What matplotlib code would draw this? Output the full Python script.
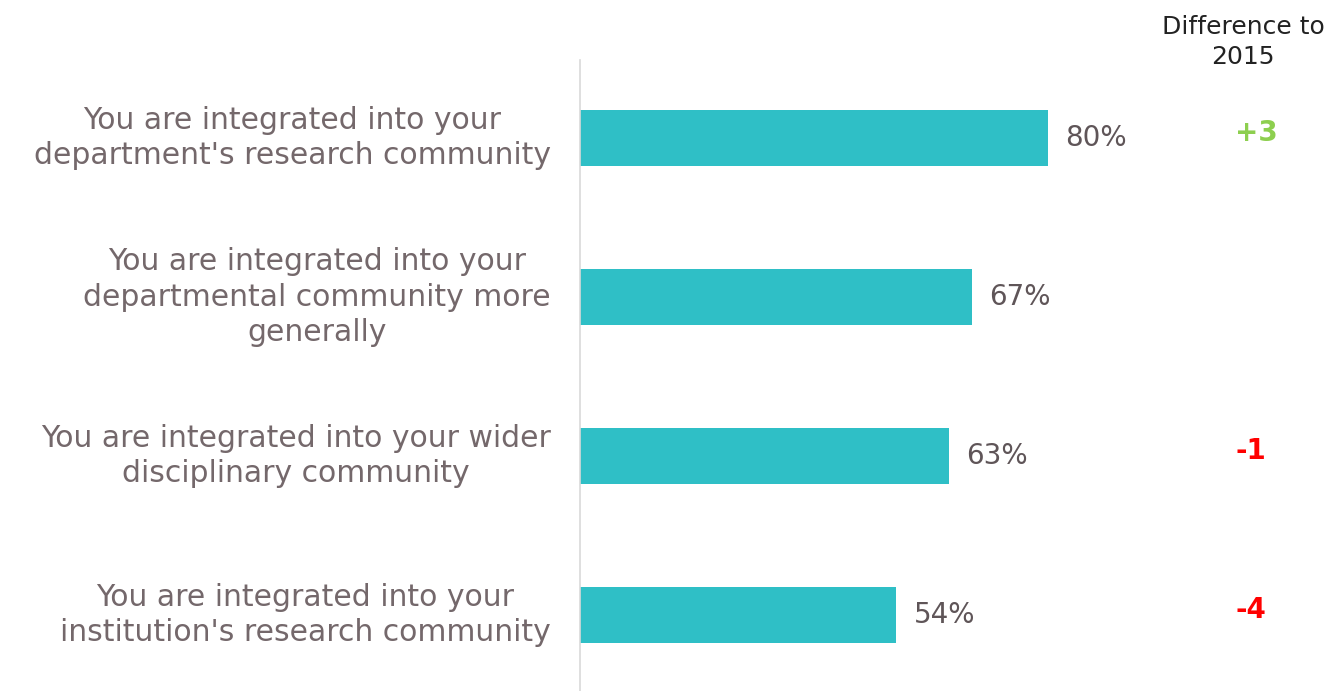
import matplotlib
matplotlib.use("Agg")
import matplotlib.pyplot as plt

labels = [
    "You are integrated into your\ndepartment's research community",
    "You are integrated into your\ndepartmental community more\ngenerally",
    "You are integrated into your wider\ndisciplinary community",
    "You are integrated into your\ninstitution's research community",
]
values = [80, 67, 63, 54]
diffs = ["+3", "", "-1", "-4"]
diff_colors = ["#8dcf4f", "#8dcf4f", "#ff0000", "#ff0000"]

plt.rcParams['font.family'] = ['DejaVu Sans']

fig = plt.figure(figsize=(13.32, 6.91), dpi=100)
ax = fig.add_axes([580 / 1332, 0, 752 / 1332, 631 / 691])

y = list(range(len(values)))
ax.barh(y, values, height=0.35, color="#2fbfc6")
ax.set_xlim(0, 752 / 5.85)
ax.set_ylim(3 + 76 / 159, -78 / 159)

for yi, v in zip(y, values):
    ax.text(v + 3, yi, f"{v}%", va="center", ha="left", fontsize=20, color="#5f5558")

for yi, lab in zip(y, labels):
    ax.text(-5, yi, lab, va="center", ha="right", multialignment="center",
            fontsize=21.5, color="#74686b", linespacing=1.3)

for yi, d, c in zip(y, diffs, diff_colors):
    if d:
        ax.text(112, yi - 0.03, d, va="center", ha="left", fontsize=20,
                color=c, fontweight="bold")

fig.text(1243 / 1332, 1 - 42 / 691, "Difference to\n2015", ha="center", va="center",
         fontsize=18, color="#222222", linespacing=1.28)

for s in ["top", "right", "bottom"]:
    ax.spines[s].set_visible(False)
ax.spines["left"].set_color("#d9d9d9")
ax.spines["left"].set_linewidth(1.2)
ax.set_xticks([])
ax.set_yticks([])

fig.savefig("out.png", dpi=100)
